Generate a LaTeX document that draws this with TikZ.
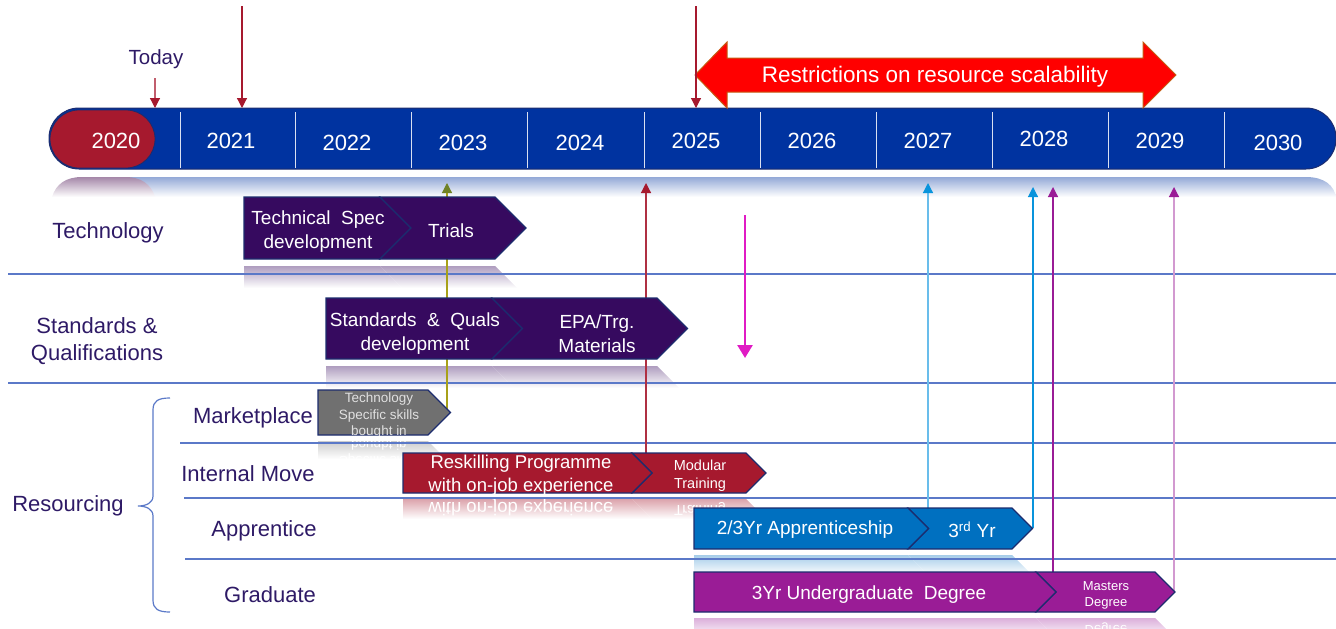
\documentclass[tikz,border=0pt]{standalone}
\usepackage{fontspec}
\setmainfont{Liberation Sans}
\usetikzlibrary{arrows.meta}

\definecolor{barblue}{HTML}{0033A0}
\definecolor{navy}{HTML}{1C2C6E}
\definecolor{pillred}{HTML}{A6192E}
\definecolor{labelcol}{HTML}{2E1A66}
\definecolor{sepblue}{HTML}{5B79C8}
\definecolor{purp}{HTML}{360A5F}
\definecolor{mktgrey}{HTML}{707070}
\definecolor{appblue}{HTML}{0070C0}
\definecolor{gradpurp}{HTML}{9A1C96}
\definecolor{magentaarrow}{HTML}{E01BC4}
\definecolor{restrictred}{HTML}{FF0000}
\definecolor{restrictedge}{HTML}{C55A11}

% chevron: style, left x, body right x, top y, bottom y, notch factor (0 flat / 1 notched)
\newcommand\chev[6]{%
  \path[#1] (#2,#4) -- (#3,#4) -- ({#3+(#5-#4)/2},{(#4+#5)/2}) -- (#3,#5) -- (#2,#5)
    -- ({#2+#6*(#5-#4)/2},{(#4+#5)/2}) -- cycle;}
% faded reflection under a chevron: colour, left x, right x, top y, height, notch factor
\newcommand\refl[6]{%
  \shade[top color=#1, bottom color=white] (#2,#4) -- (#3,#4) -- ({#3+#5},{#4+#5})
    -- ({#2+#6*#5},{#4+#5}) -- cycle;}
% clip region of a reflection (same arguments without colour)
\newcommand\reflclip[5]{%
  \clip (#1,#3) -- (#2,#3) -- ({#2+#4},{#3+#4}) -- ({#1+#5*#4},{#3+#4}) -- cycle;}

\tikzset{
  lbl/.style={text=labelcol, font=\fontsize{22}{27}\selectfont, align=center, inner sep=0pt},
  yr/.style={text=white, font=\fontsize{22}{26}\selectfont, inner sep=0pt},
  ctext/.style={text=white, font=\fontsize{19}{24}\selectfont, align=center, inner sep=0pt},
  stext/.style={text=white, font=\fontsize{13.5}{16.5}\selectfont, align=center, inner sep=0pt},
  mirror/.style={yscale=-1, transform shape},
  sepline/.style={draw=sepblue, line width=1.2pt},
  chevbox/.style={draw=navy, line width=1.2pt, line join=miter},
  pin/.style={line width=1.2pt},
}

\begin{document}
\begin{tikzpicture}[x=1pt, y=-1pt]
\useasboundingbox (0,0) rectangle (1336,629);

% ---- timeline reflection ----
\shade[top color=barblue!42!white, bottom color=white]
  (100,197) -- (100,177) -- (1306,177) .. controls (1325,177) and (1334,186) .. (1336,197) -- cycle;
\shade[top color=pillred!55!barblue!55!white, bottom color=white]
  (52,197) .. controls (56,184) and (66,177) .. (82,177) -- (125,177)
  .. controls (141,177) and (151,184) .. (155,197) -- cycle;

% ---- timeline bar ----
\path[fill=barblue, draw=navy, line width=1pt, rounded corners=30pt] (49,108) rectangle (1336,169);
\path[fill=pillred, draw=navy, line width=0.8pt, rounded corners=29pt] (50,110) rectangle (155,168);
\foreach \x in {180,295,411,527,644,760,876,992,1108,1224}
  \draw[white!85!barblue, line width=1pt] (\x,112) -- (\x,168);
\foreach \yr/\x/\y in {2020/116/141,2021/231/141,2022/347/143,2023/463/143,2024/580/143,
    2025/696/141,2026/812/141,2027/928/141,2028/1044/139,2029/1160/141,2030/1278/143}
  \node[yr] (y\yr) at (\x,\y) {\yr};

% ---- restriction arrow ----
\path[fill=restrictred, draw=restrictedge, line width=1pt]
  (695,75) -- (727,42) -- (727,58) -- (1143,58) -- (1143,42) -- (1176,75)
  -- (1143,108) -- (1143,92) -- (727,92) -- (727,108) -- cycle;
\node[text=white, font=\fontsize{22.5}{27}\selectfont, inner sep=0pt] (restrict) at (935,77)
  {Restrictions on resource scalability};

% ---- markers on the timeline ----
\node[text=labelcol, font=\fontsize{20.5}{24}\selectfont, inner sep=0pt] (today) at (156,59) {Today};
\coordinate (todayA) at (155,78);  \coordinate (todayB) at (155,108);
\coordinate (m21a) at (242,6);     \coordinate (m21b) at (242,108);
\coordinate (m25a) at (696,6);     \coordinate (m25b) at (696,108);
\draw[pin, draw=pillred!70!white, -{Triangle[width=10pt,length=10pt,color=pillred]}] (todayA) -- (todayB);
\draw[pin, draw=pillred, -{Triangle[width=10pt,length=10pt]}] (m21a) -- (m21b);
\draw[pin, draw=pillred, -{Triangle[width=10pt,length=10pt]}] (m25a) -- (m25b);

% ---- reflections of the activity bars ----
\refl{purp!40!white}{244}{380}{266}{22}{0}
\refl{purp!40!white}{380}{495}{266}{22}{1}
\refl{purp!40!white}{326}{492}{366}{22}{0}
\refl{purp!40!white}{492}{657}{366}{22}{1}
\refl{mktgrey!35!white}{318}{428}{441}{18}{0}
\refl{pillred!40!white}{403}{632}{499}{20}{0}
\refl{pillred!40!white}{632}{746}{499}{20}{1}
\refl{appblue!35!white}{694}{908}{555}{20}{0}
\refl{appblue!35!white}{908}{1012}{555}{20}{1}
\refl{gradpurp!35!white}{694}{1036}{618}{20}{0}
\refl{gradpurp!35!white}{1036}{1155}{618}{20}{1}

% mirrored captions inside the reflections
\begin{scope}
  \reflclip{318}{428}{441}{18}{0}
  \node[stext, mirror, text=white] (rMkt) at (379,460) {Technology\\Specific skills\\bought in};
\end{scope}
\begin{scope}
  \reflclip{403}{632}{499}{20}{0}
  \node[ctext, mirror, font=\fontsize{18.5}{22.5}\selectfont] (rResk) at (521,519)
    {Reskilling Programme\\with on-job experience};
\end{scope}
\begin{scope}
  \reflclip{632}{746}{499}{20}{1}
  \node[stext, mirror, font=\fontsize{14.5}{18}\selectfont] (rMod) at (700,518) {Modular\\Training};
\end{scope}
\begin{scope}
  \reflclip{1036}{1155}{618}{20}{1}
  \node[stext, mirror, font=\fontsize{13}{16}\selectfont] (rMast) at (1106,637) {Masters\\Degree};
\end{scope}

% ---- row separators and brace ----
\draw[sepline] (8,274) -- (1336,274);
\draw[sepline] (8,383) -- (1336,383);
\draw[sepline] (180,443) -- (1336,443);
\draw[sepline] (184,498) -- (1336,498);
\draw[sepline] (185,559) -- (1336,559);
\draw[sepline] (170,398) .. controls (158,398) and (153,401) .. (153,410) -- (153,496)
  .. controls (153,503) and (146,506) .. (138,506) .. controls (146,506) and (153,509) .. (153,516)
  -- (153,600) .. controls (153,609) and (158,612) .. (170,612);

% ---- row labels ----
\node[lbl] (lTech) at (108,233) {Technology};
\node[lbl] (lStd) at (97,341) {Standards \&\\Qualifications};
\node[lbl] (lRes) at (68,506) {Resourcing};
\node[lbl] (lMkt) at (253,418) {Marketplace};
\node[lbl] (lInt) at (248,474) {Internal Move};
\node[lbl] (lApp) at (264,531) {Apprentice};
\node[lbl] (lGrad) at (270,595) {Graduate};

% ---- dependency arrows (the bars sit on top of them) ----
\coordinate (mktTip) at (447,412);   \coordinate (mktUp) at (447,183);
\coordinate (reskTop) at (646,455);  \coordinate (reskUp) at (646,183);
\coordinate (appTip) at (928,528);   \coordinate (appUp) at (928,183);
\coordinate (yr3Tip) at (1033,528);  \coordinate (yr3Up) at (1033,187);
\coordinate (mastTop) at (1053,574); \coordinate (mastUp) at (1053,187);
\coordinate (mastTip) at (1174,592); \coordinate (mastUp2) at (1174,187);
\draw[pin, draw=olive!55!yellow!85!black, -{Triangle[width=10pt,length=10pt,color=olive!70!green!80!black]}] (mktTip) -- (mktUp);
\draw[pin, draw=pillred!90!white, -{Triangle[width=10pt,length=10pt,color=pillred]}] (reskTop) -- (reskUp);
\draw[pin, draw=cyan!55!white!90!blue, -{Triangle[width=10pt,length=10pt,color=cyan!80!blue]}] (appTip) -- (appUp);
\draw[pin, draw=cyan!80!blue, -{Triangle[width=10pt,length=10pt,color=cyan!80!blue]}] (yr3Tip) -- (yr3Up);
\draw[pin, draw=gradpurp, -{Triangle[width=10pt,length=10pt,color=gradpurp]}] (mastTop) -- (mastUp);
\draw[pin, draw=gradpurp!45!white, -{Triangle[width=10pt,length=10pt,color=gradpurp]}] (mastTip) -- (mastUp2);
\coordinate (magA) at (745,215); \coordinate (magB) at (745,358);
\draw[line width=2.6pt, draw=magentaarrow, -{Triangle[width=15pt,length=13pt]}] (magA) -- (magB);

% ---- activity bars ----
\chev{fill=purp, chevbox}{244}{380}{197}{259}{0}
\chev{fill=purp, chevbox}{380}{495}{197}{259}{1}
\chev{fill=purp, chevbox}{326}{492}{298}{359}{0}
\chev{fill=purp, chevbox}{492}{657}{298}{359}{1}
\chev{fill=mktgrey, chevbox}{318}{428}{390}{435}{0}
\chev{fill=pillred, chevbox}{632}{746}{453}{493}{1}
\chev{fill=pillred, chevbox}{403}{632}{453}{493}{0}
\chev{fill=appblue, chevbox}{908}{1012}{508}{549}{1}
\chev{fill=appblue, chevbox}{694}{908}{508}{549}{0}
\chev{fill=gradpurp, chevbox}{1036}{1155}{572}{612}{1}
\chev{fill=gradpurp, chevbox}{694}{1036}{572}{612}{0}

% ---- bar texts ----
\node[ctext] (tSpec) at (318,232) {Technical\ \ Spec\\development};
\node[ctext] (tTrials) at (451,231) {Trials};
\node[ctext] (tStd) at (415,334) {Standards\ \ \&\ \ Quals\\development};
\node[ctext] (tEpa) at (597,334) {EPA/Trg.\\Materials};
\begin{scope}
  \clip (318,390) -- (428,390) -- (450.5,412.5) -- (428,435) -- (318,435) -- cycle;
  \node[stext, text=white!88!black] (tMkt) at (379,416) {Technology\\Specific skills\\bought in};
\end{scope}
\node[ctext, font=\fontsize{18.5}{22.5}\selectfont] (tResk) at (521,475) {Reskilling Programme\\with on-job experience};
\node[stext, font=\fontsize{14.5}{18}\selectfont] (tMod) at (700,476) {Modular\\Training};
\node[ctext] (tApp) at (805,530) {2/3Yr Apprenticeship};
\node[ctext] (tYr3) at (972,530) {3\textsuperscript{rd} Yr};
\node[ctext] (tGrad) at (869,595) {3Yr Undergraduate\ \ Degree};
\node[stext, font=\fontsize{13}{16}\selectfont] (tMast) at (1106,595) {Masters\\Degree};

\end{tikzpicture}
\end{document}
